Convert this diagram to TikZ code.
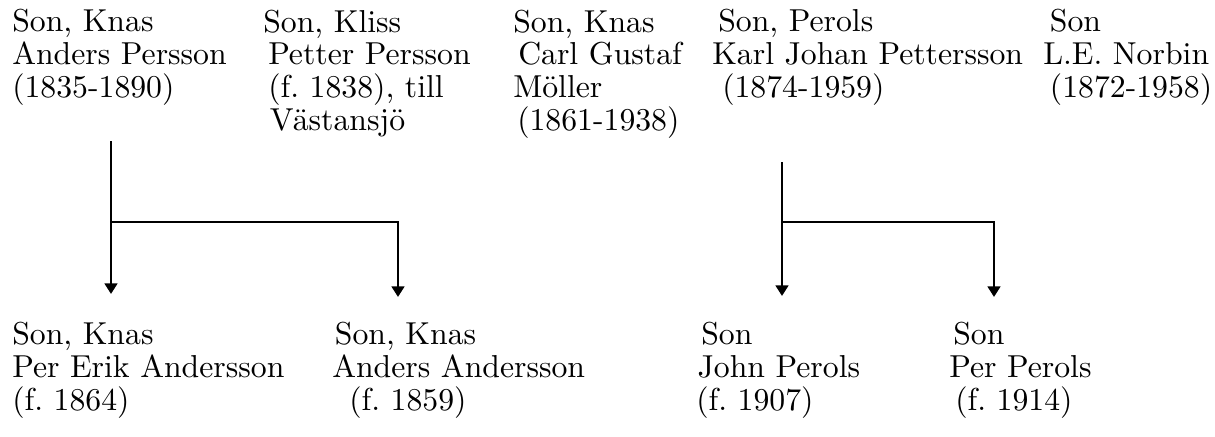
\documentclass[tikz,border=0pt]{standalone}
\usepackage{fontspec}
\setmainfont{lmroman10-regular}[Extension=.otf]
\usetikzlibrary{arrows.meta}
\frenchspacing

\tikzset{
    person/.style={anchor=base west, align=left, inner sep=0pt,
        font=\fontsize{23.8}{24.4}\selectfont},
    link/.style={line width=2pt},
    arr/.style={link, -{Triangle[width=9.5pt,length=8pt]}}
}

\begin{document}
\begin{tikzpicture}[x=0.75pt,y=-0.75pt]
    \useasboundingbox (0,0) rectangle (1215,436);
    % parents (base = last line)
    \node[person] (a1) at (12,97) {Son, Knas\\Anders Persson\\(1835-1890)};
    \node[person] (a2) at (263,130) {Son, Kliss\\\hspace*{3.75pt}Petter Persson\\
        \hspace*{3.75pt}(f. 1838), till\\\hspace*{5pt}V\"astansj\"o};
    \node[person] (a3) at (513,130) {Son, Knas\\\hspace*{3.75pt}Carl Gustaf\\
        M\"oller\\\hspace*{3pt}(1861-1938)};
    \node[person] (a4) at (712,97) {\hspace*{4.5pt}Son, Perols\\
        Karl Johan Pettersson\\\hspace*{7.5pt}(1874-1959)};
    \node[person] (a5) at (1043,97) {\hspace*{5pt}Son\\L.E. Norbin\\
        \hspace*{5pt}(1872-1958)};
    % children
    \node[person] (b1) at (12,410) {Son, Knas\\Per Erik Andersson\\(f. 1864)};
    \node[person] (b2) at (332,410) {\hspace*{2pt}Son, Knas\\Anders Andersson\\
        \hspace*{12.75pt}(f. 1859)};
    \node[person] (b3) at (696,410) {\hspace*{3.75pt}Son\\\hspace*{1pt}John Perols\\
        (f. 1907)};
    \node[person] (b4) at (949,410) {\hspace*{3pt}Son\\Per Perols\\
        \hspace*{4.5pt}(f. 1914)};
    % lines
    \coordinate (top1) at (111,141);
    \coordinate (fork1) at (111,222);
    \coordinate (tip11) at (111,294);
    \coordinate (tip12) at (398,297);
    \draw[arr] (top1) -- (tip11);
    \draw[arr] (fork1) -| (tip12);
    \coordinate (top2) at (782,162);
    \coordinate (fork2) at (782,222);
    \coordinate (tip21) at (782,296);
    \coordinate (tip22) at (994,297);
    \draw[arr] (top2) -- (tip21);
    \draw[arr] (fork2) -| (tip22);
\end{tikzpicture}
\end{document}
